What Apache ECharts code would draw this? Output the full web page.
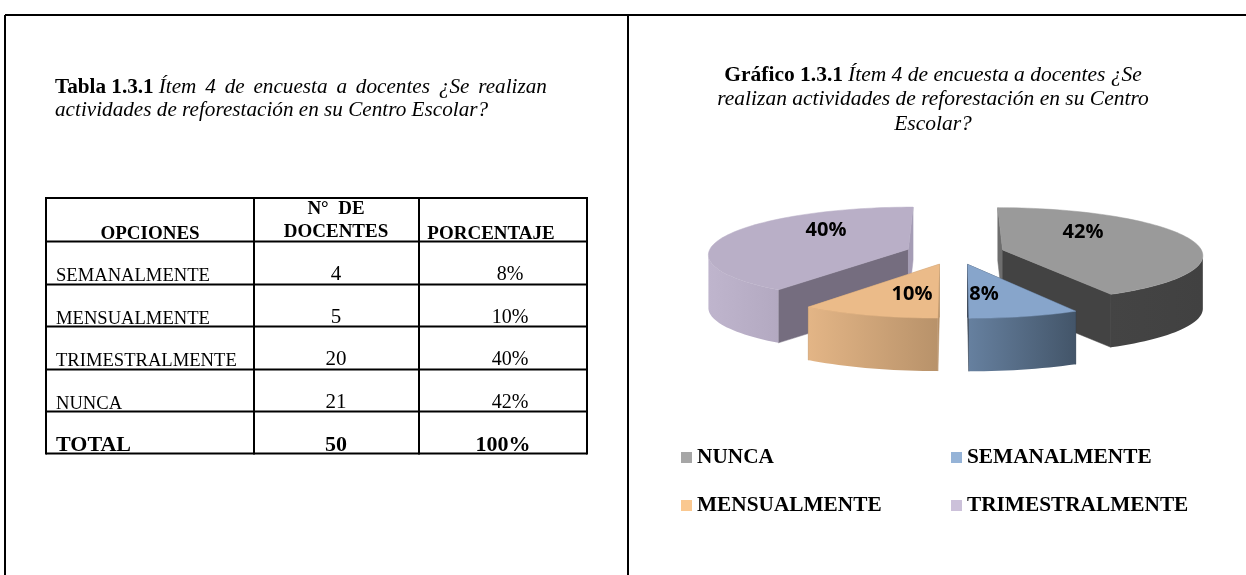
<!DOCTYPE html>
<html>
<head>
<meta charset="utf-8">
<style>
  html, body { margin: 0; padding: 0; background: #fff; }
  #chart { width: 1246px; height: 575px; }
</style>
<script src="https://cdn.jsdelivr.net/npm/echarts@6/dist/echarts.min.js"></script>
</head>
<body>
<div id="chart"></div>
<script>
// datos del grafico (orden de las porciones, desde las 12 en sentido horario)
const categories = ['NUNCA', 'SEMANALMENTE', 'MENSUALMENTE', 'TRIMESTRALMENTE']
const percents = [42, 8, 10, 40]

// datos de la tabla
const tableHeaders = ['OPCIONES', 'DOCENTES', 'PORCENTAJE']
const tableOptions = ['SEMANALMENTE', 'MENSUALMENTE', 'TRIMESTRALMENTE', 'NUNCA']
const tableCounts = [4, 5, 20, 21]
const tablePercents = ['8%', '10%', '40%', '42%']
const tableTotal = ['TOTAL', '50', '100%']

const SERIF = '"Liberation Serif", "Times New Roman", serif'

// colores de cada porcion
const topColors = ['#9a9a9a', '#87a5cb', '#ebbb89', '#b9afc7']
const cutColors = ['#434343', '#4a5d74', '#b8926a', '#756d7f']
const sliverColors = ['#6e6e6e', '#2f3b4a', '#b8926a', '#a59cb5']
const rimColors = [
  ['#444444', '#414141'],
  ['#66809f', '#435569'],
  ['#e3b586', '#b8926a'],
  ['#bfb5cd', '#b3a9c1']
]
const legendColors = ['#a6a6a6', '#95b3d7', '#fac890', '#ccc1da']

// geometria del pastel con perspectiva
const cx = 955, cy = 252.8, A = 200, B = 47.3, persX = 0.1, persY = 0.095
const explode = 0.247, depth = 53
const labelPos = [[1083, 232], [984, 294], [912, 294], [826, 230]]
const legendPos = [[681, 447], [951, 447], [681, 495], [951, 495]]

const project = (wx, wy) => [
  cx + A * wx * (1 + persX * wy),
  cy + B * wy * (1 + persY * wy)
]
const down = (p) => [p[0], p[1] + depth]

const startAngles = []
percents.reduce((acc, v, i) => {
  startAngles[i] = acc
  return acc + (v / 100) * Math.PI * 2
}, 0)

const renderSlice = (params, api) => {
  const i = params.seriesIndex
  const sweep = (api.value(0) / 100) * Math.PI * 2
  const a0 = startAngles[i]
  const a1 = a0 + sweep
  const mid = (a0 + a1) / 2
  const ox = explode * Math.sin(mid)
  const oy = -explode * Math.cos(mid)
  const apex = project(ox, oy)
  const arc = []
  const steps = Math.max(8, Math.round(sweep * 30))
  for (let k = 0; k <= steps; k++) {
    const t = a0 + (sweep * k) / steps
    arc.push({ t, p: project(ox + Math.sin(t), oy - Math.cos(t)) })
  }
  const top = [apex].concat(arc.map((d) => d.p))
  // el borde exterior: solo hasta la silueta, si no el poligono se dobla
  const front = arc.filter((d) => Math.cos(d.t) < -0.11).map((d) => d.p)
  const children = []
  const wall = (p1, p2, color) => ({
    type: 'polygon',
    z2: 1,
    shape: { points: [p1, p2, down(p2), down(p1)] },
    style: { fill: color, stroke: color, lineWidth: 0.5 }
  })
  const p0 = arc[0].p
  const pN = arc[arc.length - 1].p
  // la pared de corte grande es la que mira al espectador
  const startIsCut = Math.sin(a0) < -0.1
  const endIsCut = Math.sin(a1) > 0.1
  children.push(wall(apex, p0, startIsCut ? cutColors[i] : sliverColors[i]))
  children.push(wall(apex, pN, endIsCut ? cutColors[i] : sliverColors[i]))
  if (front.length > 1) {
    children.push({
      type: 'polygon',
      z2: 2,
      shape: { points: front.concat(front.slice().reverse().map(down)) },
      style: {
        fill: new echarts.graphic.LinearGradient(0, 0, 1, 0, [
          { offset: 0, color: rimColors[i][0] },
          { offset: 1, color: rimColors[i][1] }
        ])
      }
    })
  }
  children.push({
    type: 'polygon',
    z2: 3,
    shape: { points: top },
    style: { fill: topColors[i], stroke: topColors[i], lineWidth: 0.5 }
  })
  children.push({
    type: 'text',
    z2: 10,
    x: labelPos[i][0],
    y: labelPos[i][1],
    style: {
      text: api.value(0) + '%',
      fill: '#000',
      font: 'bold 20px "Open Sans", sans-serif',
      align: 'center',
      verticalAlign: 'middle'
    }
  })
  return { type: 'group', children }
}

// tabla dibujada con elementos graphic
const tableX = [46, 254, 419, 587]
const tableY = [198, 241.5, 284.5, 326.5, 369.5, 411.5, 453.5]
const graphicItems = []
const blackLine = (x1, y1, x2, y2, w) => ({
  type: 'line',
  shape: { x1, y1, x2, y2 },
  style: { stroke: '#000', lineWidth: w }
})
const cellText = (text, x, y, font, align) => ({
  type: 'text',
  x,
  y,
  style: { text, font, fill: '#000', align: align || 'center', verticalAlign: 'middle' }
})
tableX.forEach((x) => graphicItems.push(blackLine(x, tableY[0] - 1, x, tableY[6] + 1, 2)))
tableY.forEach((y) => graphicItems.push(blackLine(tableX[0], y, tableX[3], y, 2)))

// marco exterior de la pagina
graphicItems.push(blackLine(5, 15, 1246, 15, 2))
graphicItems.push(blackLine(5, 15, 5, 575, 2))
graphicItems.push(blackLine(628, 15, 628, 575, 2))

const headFont = 'bold 19px ' + SERIF
graphicItems.push(cellText('N°  DE', 336, 209, headFont))
graphicItems.push(cellText(tableHeaders[0], 150, 234, headFont))
graphicItems.push(cellText(tableHeaders[1], 336, 232, headFont))
graphicItems.push(cellText(tableHeaders[2], 491, 234, headFont))
tableOptions.forEach((name, r) => {
  const y = tableY[r + 1]
  graphicItems.push(cellText(name, 56, y + 35, '18.6px ' + SERIF, 'left'))
  graphicItems.push(cellText(String(tableCounts[r]), 336, y + 33, '21px ' + SERIF))
  graphicItems.push(cellText(tablePercents[r], 510, y + 33, '20px ' + SERIF))
})
const totalFont = 'bold 22px ' + SERIF
graphicItems.push(cellText(tableTotal[0], 56, 445, totalFont, 'left'))
graphicItems.push(cellText(tableTotal[1], 336, 445, totalFont))
graphicItems.push(cellText(tableTotal[2], 503, 445, totalFont))

const titleRich = {
  b: { fontFamily: SERIF, fontWeight: 'bold', fontSize: 21.2, lineHeight: 23, color: '#000' },
  i: { fontFamily: SERIF, fontWeight: 'normal', fontStyle: 'italic', fontSize: 21.2, lineHeight: 23, color: '#000' }
}
const chartRich = {
  b: Object.assign({}, titleRich.b, { fontSize: 21.5, lineHeight: 24.5 }),
  i: Object.assign({}, titleRich.i, { fontSize: 21.5, lineHeight: 24.5 })
}

const option = {
  backgroundColor: '#fff',
  animation: false,
  title: [
    {
      left: 55,
      top: 76,
      padding: 0,
      text: '{b|Tabla 1.3.1} {i|Ítem\u200A\u200A 4\u200A\u200A de\u200A\u200A encuesta\u200A\u200A a\u200A\u200A docentes\u200A\u200A ¿Se\u200A\u200A realizan}\n{i|actividades de reforestación en su Centro Escolar?}',
      textStyle: { rich: titleRich }
    },
    {
      left: 933,
      top: 63,
      padding: 0,
      textAlign: 'center',
      text: '{b|Gráfico 1.3.1} {i|Ítem 4 de encuesta a docentes ¿Se}\n{i|realizan actividades de reforestación en su Centro}\n{i|Escolar?}',
      textStyle: { rich: chartRich, align: 'center' }
    }
  ],
  legend: categories.map((name, i) => ({
    data: [name],
    left: legendPos[i][0],
    top: legendPos[i][1],
    padding: 0,
    itemWidth: 11,
    itemHeight: 11,
    icon: 'rect',
    selectedMode: false,
    textStyle: { fontFamily: SERIF, fontWeight: 'bold', fontSize: 21.3, color: '#000' }
  })),
  graphic: graphicItems,
  series: categories.map((name, i) => ({
    type: 'custom',
    name,
    coordinateSystem: 'none',
    silent: true,
    // las porciones de atras se pintan primero
    z: Math.cos(startAngles[i] + (percents[i] / 200) * Math.PI * 2) > 0 ? 2 : 3,
    itemStyle: { color: legendColors[i] },
    renderItem: renderSlice,
    data: [[percents[i]]]
  }))
}

const myChart = echarts.init(document.getElementById('chart'), null, { renderer: 'canvas' })
myChart.setOption(option)
</script>
</body>
</html>
